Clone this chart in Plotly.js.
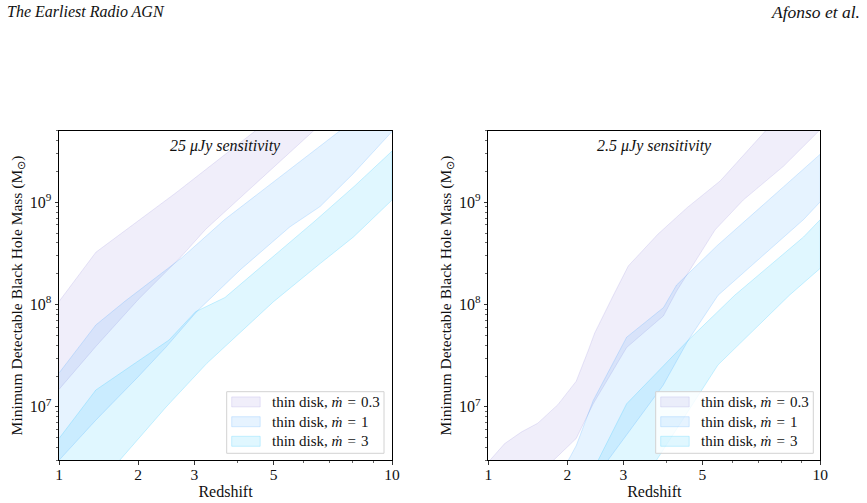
<!DOCTYPE html>
<html><head><meta charset="utf-8">
<script src="https://cdn.plot.ly/plotly-3.0.1.min.js"></script>
<style>body{margin:0;background:#fff}#chart{width:867px;height:503px}</style>
</head><body><div id="chart"></div>
<script>
// Redshift axis is logarithmic in (1 + z); values below are redshift z and mass in solar masses.
// ---------- Left panel: 25 uJy sensitivity ----------
const zLavHiA  = [1, 1.415, 2.634, 3.776, 6.536, 10];
const mLavHiA  = [1.07e8, 3.24e8, 1.23e9, 3.16e9, 1.51e10, 5.5e10];
const zLavLoA  = [1, 1.415, 2.001, 2.741, 3.241, 3.677, 6.35, 10];
const mLavLoA  = [1.48e7, 3.89e7, 1.12e8, 2.95e8, 5.45e8, 8.22e8, 4.99e9, 2.5e10];
const zBlueHiA = [1, 1.415, 1.806, 2.753, 3.677, 7.429, 10];
const mBlueHiA = [2.14e7, 6.31e7, 1.08e8, 2.87e8, 6.81e8, 5.0e9, 1.23e10];
const zBlueLoA = [1, 1.415, 2.001, 2.464, 3.046, 4.056, 5.526, 6.611, 8.03, 10];
const mBlueLoA = [3.0e6, 7.41e6, 1.97e7, 3.86e7, 8.51e7, 2.18e8, 5.75e8, 9.06e8, 1.91e9, 4.9e9];
const zCyanHiA = [1, 1.415, 2.513, 3.023, 3.677, 6.415, 8.1, 10];
const mCyanHiA = [4.9e6, 1.46e7, 4.5e7, 8.5e7, 1.17e8, 6.56e8, 1.45e9, 3.16e9];
const zCyanLoA = [1, 1.727, 2.464, 3.264, 4.99, 6.611, 8.03, 10];
const mCyanLoA = [6.3e5, 2.99e6, 1.0e7, 2.66e7, 1.06e8, 2.51e8, 4.57e8, 1.05e9];

// ---------- Right panel: 2.5 uJy sensitivity ----------
const zLavHiB  = [1, 1.175, 1.373, 1.579, 1.859, 2.141, 2.341, 2.452, 2.801, 3.104, 3.776, 4.551, 5.585, 7.304, 10];
const mLavHiB  = [2.88e6, 4.37e6, 5.69e6, 6.92e6, 1.05e7, 1.78e7, 3.55e7, 5.25e7, 1.23e8, 2.38e8, 4.86e8, 8.85e8, 1.62e9, 4.99e9, 1.32e10];
const zLavLoB  = [1, 1.793, 2.141, 2.427, 3.069, 3.917, 4.258, 5.409, 6.405, 8.1, 10];
const mLavLoB  = [7.9e5, 2.99e6, 4.9e6, 1.07e7, 3.8e7, 7.76e7, 1.35e8, 5.37e8, 1.05e9, 2.24e9, 5.13e9];
const zBlueHiB = [1, 2.014, 2.141, 2.427, 3.069, 3.917, 4.258, 5.458, 8.1, 10];
const mBlueHiB = [4.0e5, 2.99e6, 4.17e6, 1.15e7, 4.79e7, 9.33e7, 1.55e8, 3.72e8, 1.41e9, 2.95e9];
const zBlueLoB = [1, 2.694, 3.906, 4.582, 5.506, 9.091, 10];
const mBlueLoB = [1.0e5, 2.99e6, 1.62e7, 4.47e7, 1.23e8, 6.76e8, 1.01e9];
const zCyanHiB = [1, 2.513, 3.069, 4.582, 6.085, 9.091, 10];
const mCyanHiB = [1.0e5, 2.99e6, 1.07e7, 4.47e7, 1.23e8, 4.57e8, 6.76e8];
const zCyanLoB = [1, 3.743, 5.506, 8.402, 10];
const mCyanLoB = [1.0e4, 3.0e6, 2.57e7, 1.24e8, 2.26e8];

const bandNames = ['thin disk, <i>ṁ</i>\u2004=\u20040.3', 'thin disk, <i>ṁ</i>\u2004=\u20041', 'thin disk, <i>ṁ</i>\u2004=\u20043'];
const panelTitles = ['25 <i>μ</i>Jy sensitivity', '2.5 <i>μ</i>Jy sensitivity'];
const xTickZ = [1, 2, 3, 5, 10];
const xTickText = ['1', '2', '3', '5', '10'];
const xMinorZ = [4, 6, 7, 8, 9];
const yTickVals = [1e7, 1e8, 1e9];
const yTickText = ['10<sup>7</sup>', '10<sup>8</sup>', '10<sup>9</sup>'];

const fills = ['rgba(106,90,205,0.10)', 'rgba(30,144,255,0.11)', 'rgba(0,191,255,0.12)'];
const edges = ['rgba(106,90,205,0.18)', 'rgba(30,144,255,0.22)', 'rgba(0,191,255,0.25)'];
const FONT = 'Liberation Serif, Times New Roman, serif';
const onePlus = a => a.map(z => 1 + z);

function band(zHi, mHi, zLo, mLo, i, xa, ya) {
  return {
    type: 'scatter', mode: 'lines',
    x: onePlus(zHi).concat(onePlus(zLo).reverse()),
    y: mHi.concat(mLo.slice().reverse()),
    fill: 'toself', fillcolor: fills[i],
    line: {color: edges[i], width: 0.8},
    name: bandNames[i], xaxis: xa, yaxis: ya, showlegend: false,
    hoverinfo: 'skip'
  };
}

const traces = [
  band(zLavHiA, mLavHiA, zLavLoA, mLavLoA, 0, 'x', 'y'),
  band(zBlueHiA, mBlueHiA, zBlueLoA, mBlueLoA, 1, 'x', 'y'),
  band(zCyanHiA, mCyanHiA, zCyanLoA, mCyanLoA, 2, 'x', 'y'),
  band(zLavHiB, mLavHiB, zLavLoB, mLavLoB, 0, 'x2', 'y2'),
  band(zBlueHiB, mBlueHiB, zBlueLoB, mBlueLoB, 1, 'x2', 'y2'),
  band(zCyanHiB, mCyanHiB, zCyanLoB, mCyanLoB, 2, 'x2', 'y2')
];

const yMinor = [];
[1e6, 1e7, 1e8, 1e9].forEach(d => { for (let k = 2; k <= 9; k++) yMinor.push(k * d); });

function xAxis(dom, anchor) {
  return {
    type: 'log', domain: dom, range: [Math.log10(2), Math.log10(11)], anchor: anchor,
    tickmode: 'array', tickvals: onePlus(xTickZ), ticktext: xTickText,
    ticks: 'outside', ticklen: 3.5, tickwidth: 0.8, tickcolor: '#000',
    minor: {tickmode: 'array', tickvals: onePlus(xMinorZ), ticks: 'outside', ticklen: 2, tickwidth: 0.6, tickcolor: '#000', showgrid: false},
    showline: true, linecolor: '#000', linewidth: 1, mirror: true,
    showgrid: false, zeroline: false, ticklabelstandoff: -3,
    tickfont: {family: FONT, size: 15.5, color: '#111'},
    title: {text: 'Redshift', font: {family: FONT, size: 16, color: '#111'}, standoff: 0}
  };
}
function yAxis(dom, anchor) {
  return {
    type: 'log', domain: dom, range: [Math.log10(3e6), Math.log10(5e9)], anchor: anchor,
    tickmode: 'array', tickvals: yTickVals, ticktext: yTickText,
    ticks: 'outside', ticklen: 3.5, tickwidth: 0.8, tickcolor: '#000',
    minor: {tickmode: 'array', tickvals: yMinor, ticks: 'outside', ticklen: 2, tickwidth: 0.6, tickcolor: '#000', showgrid: false},
    showline: true, linecolor: '#000', linewidth: 1, mirror: true,
    showgrid: false, zeroline: false,
    tickfont: {family: FONT, size: 16, color: '#111'},
    title: {text: 'Minimum Detectable Black Hole Mass (M<sub>⊙</sub>)', font: {family: FONT, size: 15.5, color: '#111'}, standoff: 3}
  };
}

// custom legends (drawn in paper coordinates)
const W = 867, H = 503;
const px = x => x / W, py = y => 1 - y / H;
const shapes = [], annotations = [];
function addLegend(x0, x1, y0, y1) {
  shapes.push({type: 'rect', xref: 'paper', yref: 'paper', x0: px(x0), x1: px(x1), y0: py(y1), y1: py(y0),
    fillcolor: 'rgba(255,255,255,0.8)', line: {color: '#d2d2d2', width: 1}, layer: 'above'});
  const rows = [y0 + 10.2, y0 + 30, y0 + 49.6];
  rows.forEach((yc, i) => {
    shapes.push({type: 'rect', xref: 'paper', yref: 'paper', x0: px(x0 + 5), x1: px(x0 + 33.5), y0: py(yc + 5), y1: py(yc - 5),
      fillcolor: fills[i], line: {color: edges[i], width: 0.8}, layer: 'above'});
    annotations.push({xref: 'paper', yref: 'paper', x: px(x0 + 43.5), y: py(yc), xanchor: 'left', yanchor: 'middle', showarrow: false,
      text: bandNames[i], font: {family: FONT, size: 15, color: '#111'}});
  });
}
addLegend(226.7, 384, 391.7, 453.3);
addLegend(655.7, 813.3, 391.7, 453.3);

annotations.push(
  {xref: 'paper', yref: 'paper', x: px(5), y: py(12), xanchor: 'left', yanchor: 'middle', showarrow: false,
   text: '<i>The Earliest Radio AGN</i>', font: {family: FONT, size: 16, color: '#111'}},
  {xref: 'paper', yref: 'paper', x: px(862), y: py(12), xanchor: 'right', yanchor: 'middle', showarrow: false,
   text: '<i>Afonso et al.</i>', font: {family: FONT, size: 17.5, color: '#111'}},
  {xref: 'paper', yref: 'paper', x: px(225.5), y: py(146), xanchor: 'center', yanchor: 'middle', showarrow: false,
   text: '<i>' + panelTitles[0] + '</i>', font: {family: FONT, size: 16, color: '#111'}},
  {xref: 'paper', yref: 'paper', x: px(654.3), y: py(146), xanchor: 'center', yanchor: 'middle', showarrow: false,
   text: '<i>' + panelTitles[1] + '</i>', font: {family: FONT, size: 16, color: '#111'}}
);

const yDom = [py(460.3), py(130.7)];
const layout = {
  width: W, height: H,
  margin: {l: 0, r: 0, t: 0, b: 0},
  paper_bgcolor: '#fff', plot_bgcolor: 'rgba(0,0,0,0)',
  showlegend: false,
  xaxis: xAxis([px(59), px(392)], 'y'),
  yaxis: yAxis(yDom, 'x'),
  xaxis2: xAxis([px(488.3), px(820.3)], 'y2'),
  yaxis2: yAxis(yDom, 'x2'),
  shapes: shapes,
  annotations: annotations
};

Plotly.newPlot('chart', traces, layout, {displayModeBar: false, staticPlot: true});
</script>
</body></html>
